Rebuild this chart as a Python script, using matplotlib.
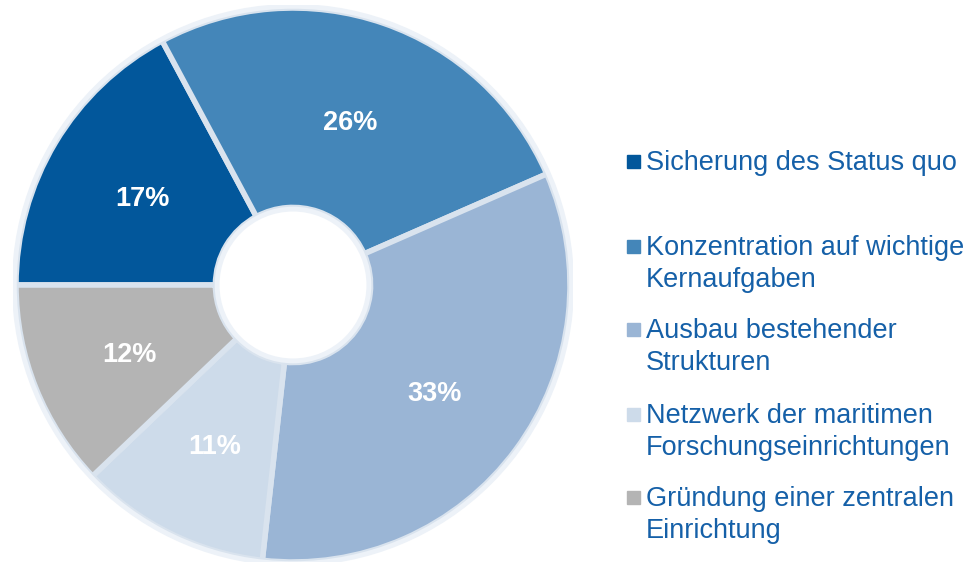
import matplotlib.pyplot as plt
from matplotlib.patches import Rectangle

# legend order
labels = ["Sicherung des Status quo",
          "Konzentration auf wichtige\nKernaufgaben",
          "Ausbau bestehender\nStrukturen",
          "Netzwerk der maritimen\nForschungseinrichtungen",
          "Gründung einer zentralen\nEinrichtung"]
shares = [17, 26, 33, 11, 12]
colors = ["#02579b", "#4486b9", "#9ab5d5", "#cddbea", "#b4b4b4"]
text_blue = "#1560a8"

plt.rcParams['font.family'] = ['Liberation Sans', 'DejaVu Sans']

fig = plt.figure(figsize=(9.67, 5.62), dpi=100)
ax = fig.add_axes([13 / 967, -3 / 562, 560 / 967, 560 / 562])

radius = 277 / 280
wedges, texts, autotexts = ax.pie(
    shares, colors=colors, startangle=180, counterclock=False,
    radius=radius, autopct=lambda p: f"{p * sum(shares) / 100:.0f}%",
    pctdistance=0.635,
    wedgeprops=dict(width=radius * 0.72, edgecolor="#d9e3ee", linewidth=4),
    textprops=dict(color="white", fontsize=19.5, fontweight="bold"))
for t in autotexts:
    t.set_va("center_baseline")
    x, y = t.get_position()
    t.set_position((x, y - 0.006))
ax.set_xlim(-1, 1)
ax.set_ylim(-1, 1)
ax.set_aspect("equal")

# soft outer/inner outline
ax.add_patch(plt.Circle((0, 0), radius + 0.006, fill=False, ec="#edf2f8", lw=3.5))
ax.add_patch(plt.Circle((0, 0), radius * 0.28 - 0.006, fill=False, ec="#edf2f8", lw=3.5))

# legend drawn manually
y_first = [161, 246, 329, 414, 497]
for lab, col, y in zip(labels, colors, y_first):
    fig.patches.append(Rectangle((627 / 967, 1 - (y + 7) / 562), 13 / 967, 13 / 562,
                                 transform=fig.transFigure, color=col))
    fig.text(646 / 967, 1 - (y - 11) / 562, lab, color=text_blue, fontsize=19.5,
             va="top", ha="left", linespacing=1.3)

fig.savefig("out.png", dpi=100)
